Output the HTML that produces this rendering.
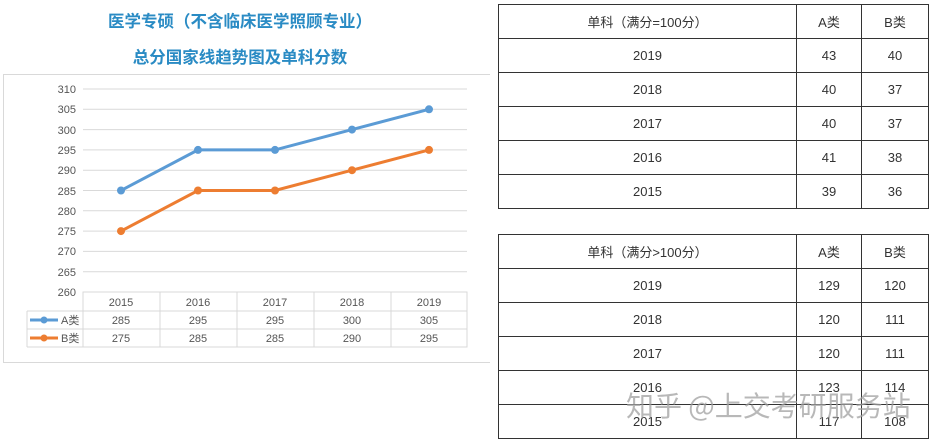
<!DOCTYPE html><html><head><meta charset="utf-8"><style>
body{margin:0;width:932px;height:444px;background:#fff;overflow:hidden;position:relative;font-family:"Liberation Sans","Noto Sans CJK SC",sans-serif}
.t{position:absolute;left:0;width:480px;text-align:center;color:#2a8bc4;font-weight:bold;font-size:16.5px;font-family:"Noto Sans CJK SC",sans-serif}
table{position:absolute;border-collapse:collapse;font-size:13px;color:#333}
td{border:1px solid #333;height:33px;padding:0;text-align:center}
</style></head><body>
<div class="t" style="top:8px">医学专硕（不含临床医学照顾专业）</div>
<div class="t" style="top:44px">总分国家线趋势图及单科分数</div>
<svg style="position:absolute;left:0;top:0" width="490" height="370" font-size="11" fill="#555">
<rect x="3.5" y="74.5" width="490" height="288" fill="none" stroke="#d9d9d9"/>
<g stroke="#d9d9d9">
<line x1="83" x2="467" y1="89" y2="89"/><line x1="83" x2="467" y1="109.3" y2="109.3"/><line x1="83" x2="467" y1="129.6" y2="129.6"/><line x1="83" x2="467" y1="149.9" y2="149.9"/><line x1="83" x2="467" y1="170.2" y2="170.2"/><line x1="83" x2="467" y1="190.5" y2="190.5"/><line x1="83" x2="467" y1="210.8" y2="210.8"/><line x1="83" x2="467" y1="231.1" y2="231.1"/><line x1="83" x2="467" y1="251.4" y2="251.4"/><line x1="83" x2="467" y1="271.7" y2="271.7"/>
<rect x="83" y="292" width="384" height="55" fill="none"/>
<line x1="27" x2="467" y1="311" y2="311"/><line x1="27" x2="467" y1="329" y2="329"/><line x1="27" x2="83" y1="347" y2="347"/><line x1="27" x2="27" y1="311" y2="347"/>
<line x1="160" x2="160" y1="292" y2="347"/><line x1="237" x2="237" y1="292" y2="347"/><line x1="314" x2="314" y1="292" y2="347"/><line x1="391" x2="391" y1="292" y2="347"/>
</g>
<g text-anchor="end"><text x="76" y="93">310</text><text x="76" y="113">305</text><text x="76" y="134">300</text><text x="76" y="154">295</text><text x="76" y="174">290</text><text x="76" y="195">285</text><text x="76" y="215">280</text><text x="76" y="235">275</text><text x="76" y="255">270</text><text x="76" y="276">265</text><text x="76" y="296">260</text></g>
<g text-anchor="middle"><text x="121" y="306">2015</text><text x="198" y="306">2016</text><text x="275" y="306">2017</text><text x="352" y="306">2018</text><text x="429" y="306">2019</text>
<text x="121" y="324">285</text><text x="198" y="324">295</text><text x="275" y="324">295</text><text x="352" y="324">300</text><text x="429" y="324">305</text>
<text x="121" y="342">275</text><text x="198" y="342">285</text><text x="275" y="342">285</text><text x="352" y="342">290</text><text x="429" y="342">295</text></g>
<text x="61" y="324">A类</text><text x="61" y="342">B类</text>
<line x1="30" x2="58" y1="320" y2="320" stroke="#5b9bd5" stroke-width="3"/><circle cx="44" cy="320" r="3.5" fill="#5b9bd5"/>
<line x1="30" x2="58" y1="338" y2="338" stroke="#ed7d31" stroke-width="3"/><circle cx="44" cy="338" r="3.5" fill="#ed7d31"/>
<polyline points="121,190.5 198,149.9 275,149.9 352,129.6 429,109.3" fill="none" stroke="#5b9bd5" stroke-width="3"/>
<g fill="#5b9bd5"><circle cx="121" cy="190.5" r="4"/><circle cx="198" cy="149.9" r="4"/><circle cx="275" cy="149.9" r="4"/><circle cx="352" cy="129.6" r="4"/><circle cx="429" cy="109.3" r="4"/></g>
<polyline points="121,231.1 198,190.5 275,190.5 352,170.2 429,149.9" fill="none" stroke="#ed7d31" stroke-width="3"/>
<g fill="#ed7d31"><circle cx="121" cy="231.1" r="4"/><circle cx="198" cy="190.5" r="4"/><circle cx="275" cy="190.5" r="4"/><circle cx="352" cy="170.2" r="4"/><circle cx="429" cy="149.9" r="4"/></g>
</svg>
<table style="left:498px;top:4px;width:431px">
<tr><td style="width:297px">单科（满分=100分）</td><td style="width:64px">A类</td><td>B类</td></tr>
<tr><td>2019</td><td>43</td><td>40</td></tr><tr><td>2018</td><td>40</td><td>37</td></tr><tr><td>2017</td><td>40</td><td>37</td></tr><tr><td>2016</td><td>41</td><td>38</td></tr><tr><td>2015</td><td>39</td><td>36</td></tr></table>
<table style="left:498px;top:234px;width:431px">
<tr><td style="width:297px">单科（满分&gt;100分）</td><td style="width:64px">A类</td><td>B类</td></tr>
<tr><td>2019</td><td>129</td><td>120</td></tr><tr><td>2018</td><td>120</td><td>111</td></tr><tr><td>2017</td><td>120</td><td>111</td></tr><tr><td>2016</td><td>123</td><td>114</td></tr><tr><td>2015</td><td>117</td><td>108</td></tr></table>
<div style="position:absolute;left:626px;top:385px;font-size:28px;color:rgba(160,160,160,0.75);font-family:'Noto Sans CJK SC',sans-serif">知乎 @上交考研服务站</div>
</body></html>
